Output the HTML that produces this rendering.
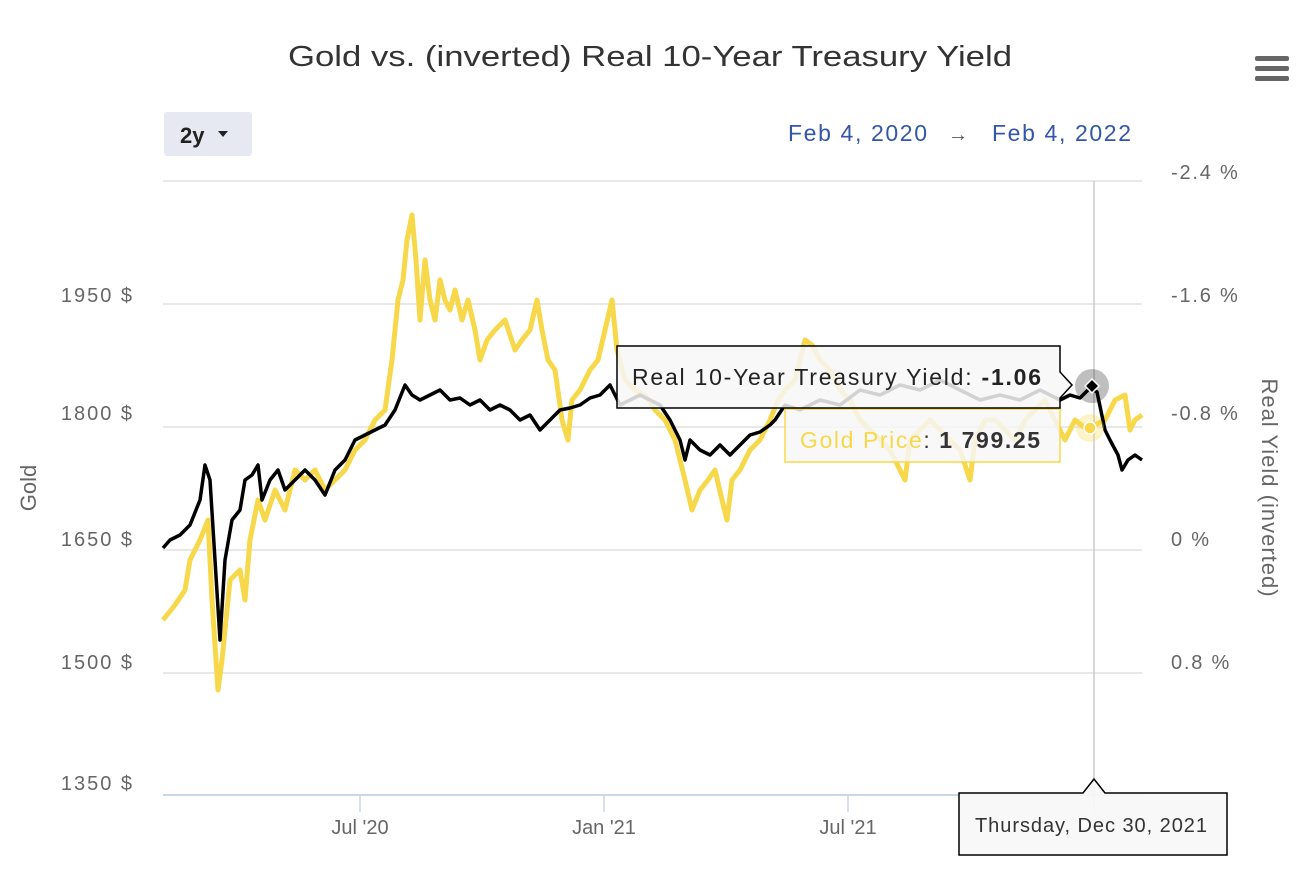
<!DOCTYPE html>
<html><head><meta charset="utf-8"><style>
body{margin:0;background:#fff;font-family:"Liberation Sans",sans-serif}
</style></head><body>
<svg width="1302" height="866" xmlns="http://www.w3.org/2000/svg" font-family="Liberation Sans, sans-serif">
<text x="288" y="66" font-size="29" fill="#333" textLength="724" lengthAdjust="spacingAndGlyphs">Gold vs. (inverted) Real 10-Year Treasury Yield</text>
<g fill="#666"><rect x="1255" y="56" width="34" height="5" rx="2"/><rect x="1255" y="66" width="34" height="5" rx="2"/><rect x="1255" y="76" width="34" height="5" rx="2"/></g>
<rect x="164" y="112" width="88" height="44" rx="3" fill="#e6e9f2"/>
<text x="180" y="143" font-size="22" font-weight="bold" fill="#222">2y</text>
<path d="M218 131 l10 0 l-5 6z" fill="#222"/>
<text x="788" y="141" font-size="23" fill="#3355aa" textLength="139">Feb 4, 2020</text>
<text x="948" y="141" font-size="20" fill="#555">→</text>
<text x="992" y="141" font-size="23" fill="#3355aa" textLength="139">Feb 4, 2022</text>
<g stroke="#e0e0e0" stroke-width="1.5"><line x1="163" x2="1142" y1="181" y2="181"/><line x1="163" x2="1142" y1="304" y2="304"/><line x1="163" x2="1142" y1="427" y2="427"/><line x1="163" x2="1142" y1="550" y2="550"/><line x1="163" x2="1142" y1="673" y2="673"/></g>
<line x1="163" x2="1142" y1="795" y2="795" stroke="#ccd6eb" stroke-width="2"/>
<g stroke="#ccd6eb" stroke-width="1.5"><line x1="360" x2="360" y1="795" y2="812"/><line x1="604" x2="604" y1="795" y2="812"/><line x1="848" x2="848" y1="795" y2="812"/><line x1="1094" x2="1094" y1="795" y2="812"/></g>
<g font-size="20" fill="#666" text-anchor="end" letter-spacing="2"><text x="134" y="302">1950 $</text><text x="134" y="420">1800 $</text><text x="134" y="546">1650 $</text><text x="134" y="669">1500 $</text><text x="134" y="790">1350 $</text></g>
<g font-size="20" fill="#666" letter-spacing="1.8"><text x="1171" y="179">-2.4 %</text><text x="1171" y="302">-1.6 %</text><text x="1171" y="420">-0.8 %</text><text x="1171" y="546">0 %</text><text x="1171" y="669">0.8 %</text></g>
<g font-size="20" fill="#666" text-anchor="middle"><text x="360" y="834">Jul '20</text><text x="604" y="834">Jan '21</text><text x="848" y="834">Jul '21</text></g>
<text transform="translate(36,488) rotate(-90)" text-anchor="middle" font-size="22" fill="#666">Gold</text>
<text transform="translate(1262,488) rotate(90)" text-anchor="middle" font-size="22" fill="#666" letter-spacing="1">Real Yield (inverted)</text>
<line x1="1094" x2="1094" y1="181" y2="795" stroke="#ccc" stroke-width="1.5"/>
<polyline fill="none" stroke="#f7d84a" stroke-width="5" stroke-linejoin="round" points="163,620 175,605 185,590 190,560 200,540 208,520 212,600 218,690 222,660 230,580 240,570 245,600 250,540 258,500 265,520 275,490 285,510 295,470 305,480 315,470 325,490 335,480 345,470 355,450 365,440 375,420 385,410 392,360 398,300 403,280 407,240 412,215 416,260 420,320 425,260 430,300 435,320 440,280 445,300 450,310 455,290 462,320 468,300 475,330 480,360 487,340 495,330 505,320 515,350 522,340 530,330 537,300 542,330 548,360 555,370 562,420 568,440 572,400 580,390 590,370 598,360 605,330 612,300 617,350 625,380 635,390 645,395 655,410 665,420 675,440 685,480 692,510 700,490 708,480 715,470 722,500 727,520 732,480 740,470 750,450 760,440 770,420 778,400 785,390 795,380 805,340 812,345 820,360 830,370 840,390 850,400 860,420 870,430 880,440 890,450 900,470 905,480 910,440 920,430 930,420 940,430 950,440 960,450 970,480 975,440 985,420 995,420 1005,430 1015,440 1025,420 1035,410 1045,400 1055,420 1065,440 1075,420 1085,428 1095,425 1105,420 1115,400 1125,395 1130,430 1135,420 1142,415"/>
<polyline fill="none" stroke="#000" stroke-width="3.5" stroke-linejoin="round" points="163,548 170,540 180,535 190,525 200,500 205,465 210,480 215,560 220,640 225,560 232,520 240,510 245,480 252,475 258,465 262,500 270,480 278,470 285,490 295,480 305,470 315,480 325,495 335,470 345,460 355,440 365,435 375,430 385,425 395,410 405,385 412,395 420,400 430,395 440,390 450,400 460,398 470,405 480,400 490,410 500,405 510,410 520,420 530,415 540,430 550,420 560,410 570,408 580,405 590,398 600,395 610,385 620,405 630,400 640,395 650,400 660,405 670,420 680,440 685,460 690,440 700,450 710,455 720,445 730,455 740,445 750,435 760,432 770,425 775,420 785,405 800,410 820,400 840,405 860,390 880,395 900,385 920,390 940,380 960,390 980,400 1000,395 1020,400 1040,390 1060,400 1070,395 1080,398 1090,388 1097,392 1105,430 1110,440 1118,455 1122,470 1128,460 1135,455 1142,460"/>
<circle cx="1092" cy="386" r="17" fill="#000" opacity="0.25"/>
<path d="M1092 379 l7 7 l-7 7 l-7 -7z" fill="#000" stroke="#fff" stroke-width="1.5"/>
<circle cx="1090" cy="428" r="14" fill="#f7d84a" opacity="0.3"/>
<circle cx="1090" cy="428" r="6" fill="#f7d84a" stroke="#fff" stroke-width="1.5"/>
<path d="M785 409 H1060 V462 H785 Z" fill="rgba(247,247,247,0.85)" stroke="#f7d84a" stroke-width="1.5"/>
<text x="800" y="448" font-size="23" fill="#f7d84a" textLength="240">Gold Price<tspan fill="#333">: </tspan><tspan fill="#333" font-weight="bold">1 799.25</tspan></text>
<path d="M617 346 H1060 V372 L1072 385 L1060 398 V408 H617 Z" fill="rgba(247,247,247,0.85)" stroke="#000" stroke-width="1.5"/>
<text x="632" y="385" font-size="23" fill="#222" textLength="409">Real 10-Year Treasury Yield: <tspan font-weight="bold">-1.06</tspan></text>
<path d="M959 793 H1083 L1094 779 L1105 793 H1227 V855 H959 Z" fill="rgba(247,247,247,0.92)" stroke="#000" stroke-width="1.5"/>
<text x="975" y="832" font-size="20" fill="#333" textLength="232">Thursday, Dec 30, 2021</text>
</svg>
</body></html>
